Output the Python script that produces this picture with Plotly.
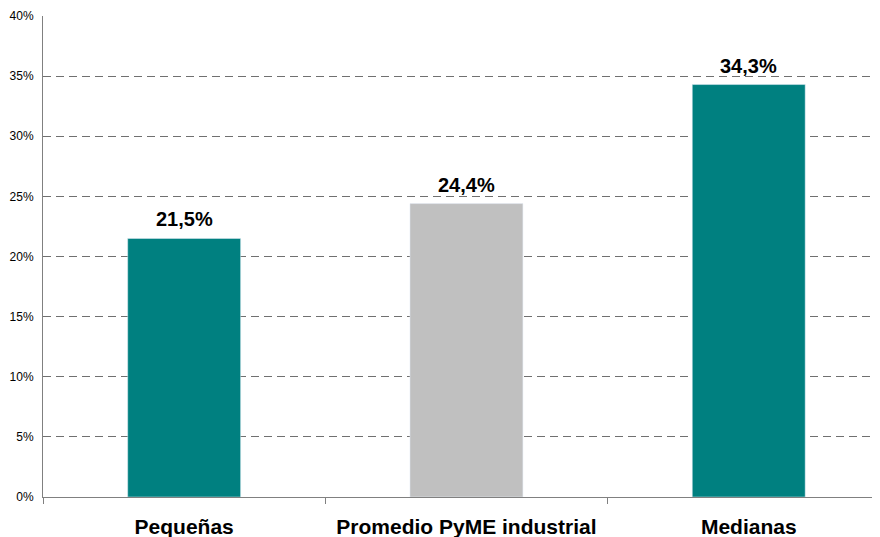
import plotly.graph_objects as go

categories = ["Pequeñas", "Promedio PyME industrial", "Medianas"]
values = [21.5, 24.4, 34.3]
colors = ["#008080", "#C0C0C0", "#008080"]
y_ticks = [0, 5, 10, 15, 20, 25, 30, 35, 40]
y_tick_labels = [f"{v}%" for v in y_ticks]

fig = go.Figure(go.Bar(
    x=categories, y=values, marker_color=colors, width=0.4,
))

for c, v in zip(categories, values):
    fig.add_annotation(
        x=c, y=v, text=f"{v:.1f}%".replace(".", ","), showarrow=False,
        yanchor="bottom", yshift=6,
        font=dict(family="Liberation Sans, Arial", size=20, color="black", weight="bold"),
    )

# page body has an 8px margin, so the figure is sized to fill the rest of the window
fig.update_layout(
    width=872, height=529, margin=dict(l=35, r=0, t=8, b=40, autoexpand=False),
    plot_bgcolor="white", paper_bgcolor="white", separators=",.",
    showlegend=False, bargap=0.6,
    font=dict(family="Liberation Sans, Arial", color="black"),
)
fig.update_xaxes(
    type="category", range=[-0.5, 2.465], tickson="boundaries",
    ticks="outside", ticklen=6, tickcolor="#808080", automargin=False,
    showline=True, linecolor="#808080", linewidth=1,
    tickfont=dict(size=21, color="black", weight="bold"), ticklabelstandoff=11,
    showgrid=False,
)
fig.update_yaxes(
    range=[0, 40], tickvals=y_ticks, ticktext=y_tick_labels, automargin=False,
    showline=True, linecolor="#808080", linewidth=1,
    showgrid=True, gridcolor="#707070", griddash="8px,5px", gridwidth=1,
    zeroline=False, tickfont=dict(size=12, color="black"), ticklabelstandoff=6,
)
fig.write_html("out.html")
